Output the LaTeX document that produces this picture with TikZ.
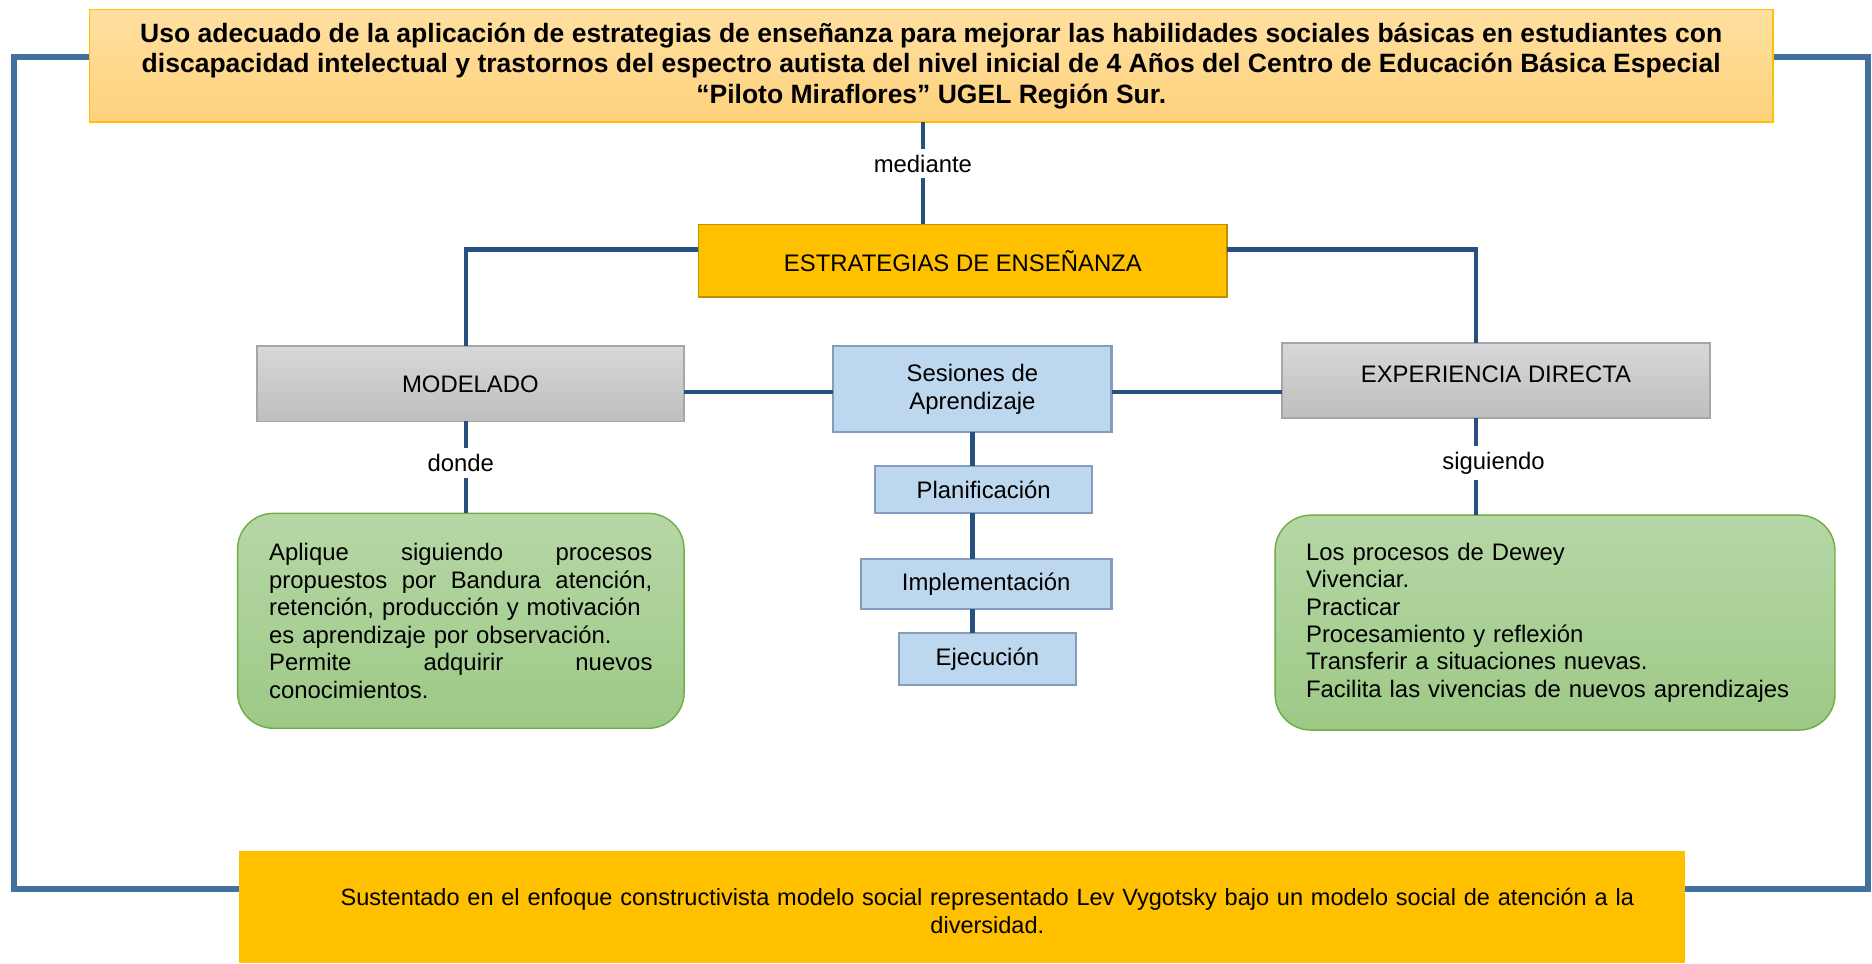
\documentclass[tikz,border=0pt]{standalone}
\usepackage{fontspec}
\setmainfont{Liberation Sans}
\usetikzlibrary{backgrounds}

\definecolor{marcoazul}{RGB}{65,113,156}
\definecolor{lineaazul}{RGB}{38,80,128}
\definecolor{tituloborde}{RGB}{255,192,0}
\definecolor{titulotop}{RGB}{255,223,160}
\definecolor{titulobot}{RGB}{254,210,124}
\definecolor{oro}{RGB}{255,192,0}
\definecolor{oroborde}{RGB}{191,144,0}
\definecolor{gristop}{RGB}{216,216,216}
\definecolor{grisbot}{RGB}{190,190,190}
\definecolor{grisborde}{RGB}{166,166,166}
\definecolor{celeste}{RGB}{189,215,238}
\definecolor{celesteborde}{RGB}{132,156,190}
\definecolor{verdetop}{RGB}{182,215,166}
\definecolor{verdebot}{RGB}{157,201,134}
\definecolor{verdeborde}{RGB}{112,173,71}

\begin{document}
\begin{tikzpicture}[x=1pt, y=-1pt, font=\fontsize{20}{23}\selectfont]
\tikzset{every node/.style={inner sep=0pt, outer sep=0pt},
  link/.style={draw=lineaazul, line width=3.5pt},
  marco/.style={draw=marcoazul, line width=5pt},
  lbl/.style={inner sep=5pt},
  titulobox/.style={draw=tituloborde, line width=1.5pt, top color=titulotop, bottom color=titulobot,
    minimum width=1410, minimum height=94, align=center, font=\fontsize{22.2}{25.5}\selectfont\bfseries},
  orobox/.style={draw=oroborde, line width=1.5pt, fill=oro, minimum width=443, minimum height=61},
  grisbox/.style={draw=grisborde, line width=1.5pt, top color=gristop, bottom color=grisbot,
    minimum width=358, minimum height=63},
  azulbox/.style={draw=celesteborde, line width=1.8pt, fill=celeste, align=center},
  verdebox/.style={draw=verdeborde, line width=1.2pt, rounded corners=30pt, top color=verdetop,
    bottom color=verdebot, minimum height=180, align=left}
}
\useasboundingbox (0,0) rectangle (1568,807);

% ejes de los conectores
\coordinate (ejeC) at (773,0);
\coordinate (ejeM) at (390,0);
\coordinate (ejeE) at (1236,0);
\coordinate (esqA) at (12,48);
\coordinate (esqB) at (12,745);
\coordinate (esqC) at (1565,48);
\coordinate (esqD) at (1565,745);

\node[titulobox] (titulo) at (780,55) {Uso adecuado de la aplicación de estrategias de enseñanza para mejorar las habilidades sociales básicas en estudiantes con\\discapacidad intelectual y trastornos del espectro autista del nivel inicial de 4 Años del Centro de Educación Básica Especial\\“Piloto Miraflores” UGEL Región Sur.};
\node[fill=oro, minimum width=1211, minimum height=94] (sustento) at (805.5,760) {};
\node[align=center, text width=1140, font=\fontsize{19.7}{24}\selectfont] (sustxt) at (827,763) {Sustentado en el enfoque constructivista modelo social representado Lev Vygotsky bajo un modelo social de atención a la\\diversidad.};

% marco exterior
\begin{scope}[on background layer]
\draw[marco] (titulo.west |- esqA) -- (esqA) -- (esqB) -- (sustento.west |- esqB);
\draw[marco] (titulo.east |- esqC) -- (esqC) -- (esqD) -- (sustento.east |- esqD);
\end{scope}

\node[orobox] (estr) at (806.5,218.5) {ESTRATEGIAS DE ENSEÑANZA};
\node[grisbox] (model) at (394,321.5) {MODELADO};
\node[grisbox, text height=14, text depth=11] (exp) at (1253,318.5) {EXPERIENCIA DIRECTA};
\node[azulbox, minimum width=233, minimum height=72, font=\fontsize{20}{24}\selectfont] (ses) at (814.5,326) {Sesiones de\\Aprendizaje};
\node[azulbox, minimum width=182, minimum height=40] (plan) at (824,410) {Planificación};
\node[azulbox, minimum width=210, minimum height=42] (impl) at (826,489) {Implementación};
\node[azulbox, minimum width=148, minimum height=43] (ejec) at (827,552) {Ejecución};

\node[lbl] (med) at (773,137) {mediante};
\node[lbl] (donde) at (386,388) {donde};
\node[lbl] (sig) at (1251,388) {siguiendo};

\node[verdebox, minimum width=374, text width=321] (izq) at (386,520) {Aplique\hfill siguiendo\hfill procesos\\
propuestos\hfill por\hfill Bandura\hfill atención,\\
retención, producción y motivación\\
es aprendizaje por observación.\\
Permite\hfill adquirir\hfill nuevos\\
conocimientos.};
\node[verdebox, minimum width=469, text width=417] (der) at (1302.5,521.5) {Los procesos de Dewey\\
Vivenciar.\\
Practicar\\
Procesamiento y reflexión\\
Transferir a situaciones nuevas.\\
Facilita las vivencias de nuevos aprendizajes};

% conectores
\draw[link] (titulo.south -| ejeC) -- (med.north -| ejeC);
\draw[link] (med.south -| ejeC) -- (estr.north -| ejeC);
\draw[link] ([yshift=9.5pt]estr.west) -| (model.north -| ejeM);
\draw[link] ([yshift=9.5pt]estr.east) -| (exp.north -| ejeE);
\draw[link] ([yshift=-2pt]ses.west) -- ([yshift=-2pt]ses.west -| model.east);
\draw[link] ([yshift=-2pt]ses.east) -- ([yshift=-2pt]ses.east -| exp.west);
\draw[link] (ses.south) -- (ses.south |- plan.north);
\draw[link] (plan.south -| ses) -- (impl.north -| ses);
\draw[link] (impl.south -| ses) -- (ejec.north -| ses);
\draw[link] (model.south -| ejeM) -- (donde.north -| ejeM);
\draw[link] (donde.south -| ejeM) -- (izq.north -| ejeM);
\draw[link] (exp.south -| ejeE) -- (sig.north -| ejeE);
\draw[link] (sig.south -| ejeE) -- (der.north -| ejeE);
\end{tikzpicture}
\end{document}
